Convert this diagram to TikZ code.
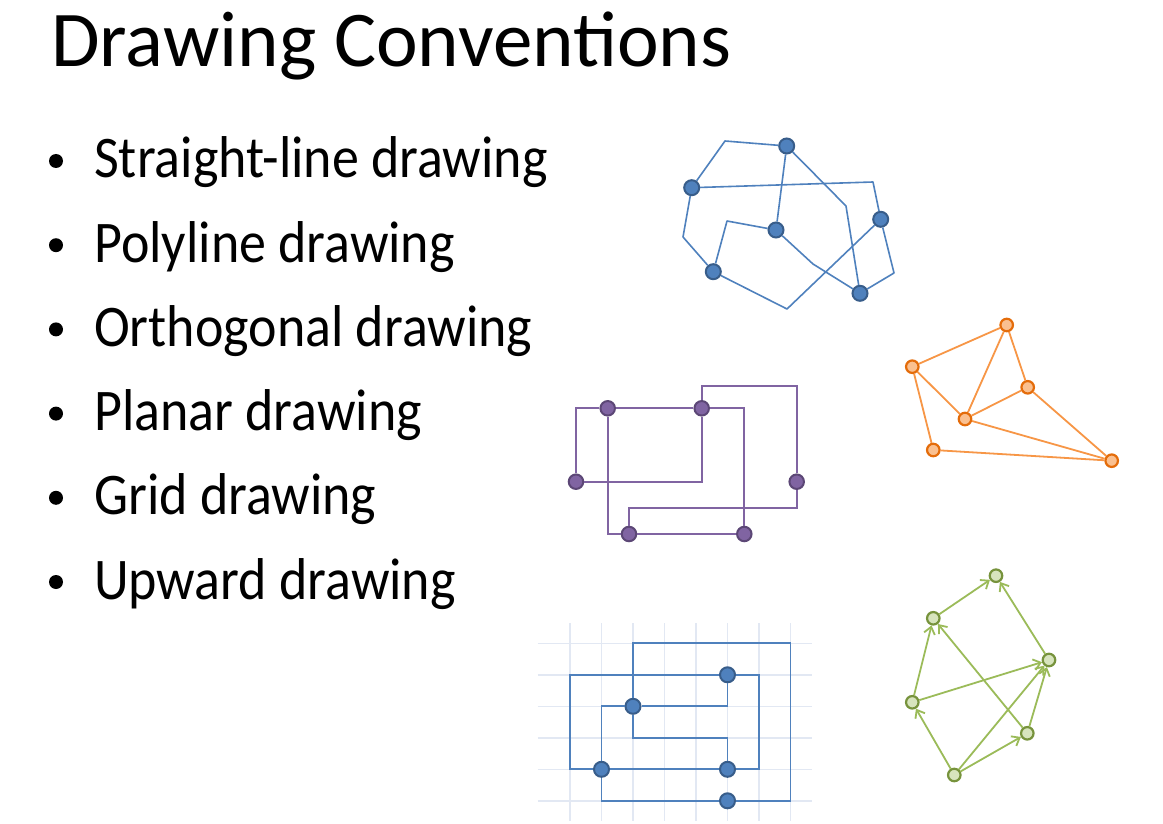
\documentclass[tikz,border=0pt]{standalone}
\usepackage{fontspec}
\setmainfont{Carlito}
\newfontfamily\itemfont[FakeStretch=0.915]{Carlito}
\usetikzlibrary{arrows.meta}
\definecolor{polyblue}{RGB}{79,129,189}
\definecolor{polyedge}{RGB}{56,93,138}
\definecolor{planorange}{RGB}{247,150,70}
\definecolor{planfill}{RGB}{250,192,144}
\definecolor{planedge}{RGB}{228,108,10}
\definecolor{orthpurple}{RGB}{128,100,162}
\definecolor{orthedge}{RGB}{92,71,118}
\definecolor{upgreen}{RGB}{155,187,89}
\definecolor{upfill}{RGB}{215,228,189}
\definecolor{upedge}{RGB}{119,147,60}
\definecolor{gridline}{RGB}{226,232,243}
\begin{document}
\begin{tikzpicture}[x=1pt, y=-1pt, >={Straight Barb[length=7pt,width=11pt]},
    bv/.style={circle, inner sep=0pt, minimum size=15pt, line width=2pt, fill=polyblue, draw=polyedge},
    ov/.style={circle, inner sep=0pt, minimum size=12.5pt, line width=2.2pt, fill=planfill, draw=planedge},
    pv/.style={circle, inner sep=0pt, minimum size=14.5pt, line width=2pt, fill=orthpurple, draw=orthedge},
    uv/.style={circle, inner sep=0pt, minimum size=12.5pt, line width=2.2pt, fill=upfill, draw=upedge}]
    \fill[white] (0,0) rectangle (1163,824);
    \useasboundingbox (0,0) rectangle (1163,824);
    \node[anchor=base west, inner sep=0pt, font=\fontsize{79}{83}\selectfont] (title) at (51,67) {Drawing Conventions};
    \foreach \t [count=\i] in {Straight-line drawing, Polyline drawing, Orthogonal drawing,
        Planar drawing, Grid drawing, Upward drawing} {
        \pgfmathsetmacro{\yb}{178+84.2*(\i-1)}
        \fill (56,\yb-17) circle (7);
        \node[anchor=base west, inner sep=0pt, font=\itemfont\fontsize{59}{64}\selectfont] (item\i) at (94,\yb) {\t};
    }

    \node[bv] (a1) at (786.7,146) {};
    \node[bv] (a2) at (691.7,187.7) {};
    \node[bv] (a3) at (776,230) {};
    \node[bv] (a4) at (880.7,219.3) {};
    \node[bv] (a5) at (713.3,271.7) {};
    \node[bv] (a6) at (860,293.3) {};
    \begin{scope}[polyblue, line width=1.6pt, line join=round]
        \draw (a1) -- (725,141) -- (a2);
        \draw (a2) -- (683,237) -- (a5);
        \draw (a2) -- (873,182) -- (a4);
        \draw (a1) -- (a3);
        \draw (a1) -- (846,206) -- (a6);
        \draw (a5) -- (727,221) -- (a3);
        \draw (a3) -- (813,264) -- (a6);
        \draw (a5) -- (787,309) -- (a4);
        \draw (a4) -- (894,273) -- (a6);
    \end{scope}

    \node[ov] (o1) at (1006.7,325) {};
    \node[ov] (o2) at (912.3,366.7) {};
    \node[ov] (o3) at (1027.7,387.3) {};
    \node[ov] (o4) at (965,419) {};
    \node[ov] (o5) at (933.3,450) {};
    \node[ov] (o6) at (1111.7,460.7) {};
    \foreach \s/\e in {o2/o1, o1/o4, o1/o3, o2/o4, o2/o5, o4/o3, o4/o6, o3/o6, o5/o6}
        \draw[planorange, line width=1.8pt] (\s) -- (\e);

    \node[pv] (p1) at (607.7,408.3) {};
    \node[pv] (p2) at (701.7,408.3) {};
    \node[pv] (p3) at (576,481.7) {};
    \node[pv] (p4) at (796.7,481.7) {};
    \node[pv] (p5) at (629,534) {};
    \node[pv] (p6) at (744.3,534) {};
    \begin{scope}[orthpurple, line width=1.8pt]
        \draw (p1) -| (p3);
        \draw (p1) -- (p2);
        \draw (p2) -| (p6);
        \draw (p2) |- (p3);
        \draw (p2) -- (701.7,385.7) -- (796.7,385.7) -- (p4);
        \draw (p4) -- (796.7,507.7) -| (p5);
        \draw (p1) |- (p5);
        \draw (p5) -- (p6);
    \end{scope}

    \begin{scope}[shift={(570pt,-643.3pt)}, x=31.5pt, y=-31.5pt]
        \foreach \c in {0,...,7}
            \draw[gridline, line width=1.6pt] (\c,-0.64) -- (\c,5.65);
        \foreach \r in {0,...,5}
            \draw[gridline, line width=1.6pt] (-1.02,\r) -- (7.68,\r);
        \node[bv] (g1) at (5,1) {};
        \node[bv] (g2) at (2,2) {};
        \node[bv] (g3) at (1,4) {};
        \node[bv] (g4) at (5,4) {};
        \node[bv] (g5) at (5,5) {};
        \begin{scope}[polyblue, line width=1.8pt]
            \draw (g2) |- (7,0) |- (g5);
            \draw (g1) -| (0,4) -- (g3);
            \draw (g1) -| (6,4) -- (g4);
            \draw (g1) |- (g2);
            \draw (g2) |- (5,3) -- (g4);
            \draw (g3) -- (g4);
            \draw (g3) |- (g2);
            \draw (g3) |- (g5);
        \end{scope}
    \end{scope}

    \node[uv] (u1) at (996,575.7) {};
    \node[uv] (u2) at (933.3,618.3) {};
    \node[uv] (u3) at (1049,660) {};
    \node[uv] (u4) at (912.3,702.3) {};
    \node[uv] (u5) at (1027.3,733.3) {};
    \node[uv] (u6) at (954.3,775) {};
    \foreach \s/\e in {u2/u1, u3/u1, u4/u2, u5/u2, u4/u3, u6/u3, u5/u3, u6/u4, u6/u5}
        \draw[->, upgreen, line width=1.8pt] (\s) -- (\e);
\end{tikzpicture}
\end{document}
